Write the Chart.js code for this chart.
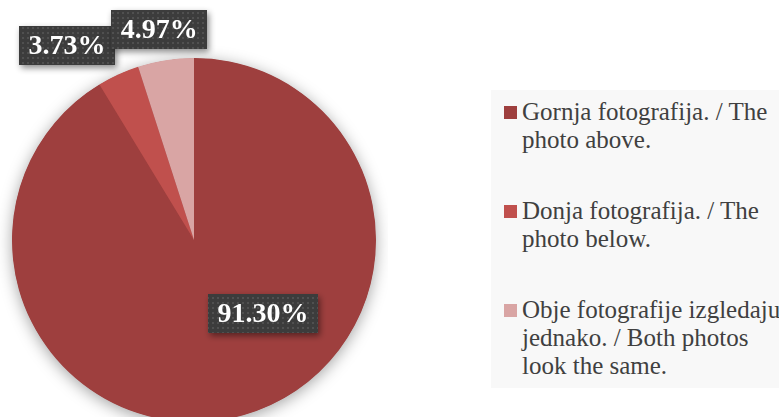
<!DOCTYPE html>
<html>
<head>
<meta charset="utf-8">
<script src="https://cdn.jsdelivr.net/npm/chart.js@4/dist/chart.umd.min.js"></script>
<style>
  html, body { margin: 0; padding: 0; background: #ffffff; overflow: hidden; width: 779px; height: 417px; }
  #wrap { position: absolute; left: 0; top: 0; width: 388px; height: 440px; }
  #legend { position: absolute; left: 491px; top: 90px; width: 288px; height: 298px; background: #f8f8f8; overflow: hidden;
            font-family: "Liberation Serif", serif; font-size: 25px; line-height: 28px; color: #404040; white-space: nowrap; }
  .item { position: relative; padding-left: 31px; margin-bottom: 43px; }
  .item:first-child { margin-top: 8px; }
  .sw { position: absolute; left: 13px; top: 8px; width: 13px; height: 13px; }
</style>
</head>
<body>
<div id="wrap"><canvas id="c"></canvas></div>
<div id="legend"></div>
<script>
// ---- data ----
const categories = [
  ["Gornja fotografija. / The", "photo above."],
  ["Donja fotografija. / The", "photo below."],
  ["Obje fotografije izgledaju", "jednako. / Both photos", "look the same."]
];
const values = [91.30, 3.73, 4.97];
const valueLabels = ["91.30%", "3.73%", "4.97%"];
const colors = ["#9e3f3e", "#c0504d", "#d9a5a4"];

// ---- legend (HTML text) ----
const legend = document.getElementById('legend');
categories.forEach((lines, i) => {
  const it = document.createElement('div');
  it.className = 'item';
  const sw = document.createElement('span');
  sw.className = 'sw';
  sw.style.background = colors[i];
  it.appendChild(sw);
  lines.forEach(l => {
    const d = document.createElement('div');
    d.textContent = l;
    it.appendChild(d);
  });
  legend.appendChild(it);
});

// ---- plugins ----
const pieShadow = {
  id: 'pieShadow',
  beforeDatasetsDraw(chart) {
    const arc = chart.getDatasetMeta(0).data[0];
    if (!arc) return;
    const ctx = chart.ctx;
    ctx.save();
    ctx.shadowColor = 'rgba(0,0,0,0.38)';
    ctx.shadowBlur = 16;
    ctx.shadowOffsetX = 0;
    ctx.shadowOffsetY = 3;
    ctx.fillStyle = colors[0];
    ctx.beginPath();
    ctx.arc(arc.x, arc.y, arc.outerRadius - 0.5, 0, Math.PI * 2);
    ctx.fill();
    ctx.restore();
  }
};

function makePattern(ctx) {
  const p = document.createElement('canvas');
  p.width = 5; p.height = 5;
  const pc = p.getContext('2d');
  pc.fillStyle = '#3c3c3c';
  pc.fillRect(0, 0, 5, 5);
  pc.fillStyle = '#505050';
  pc.fillRect(2, 2, 2, 2);
  return ctx.createPattern(p, 'repeat');
}

const boxLabels = {
  id: 'boxLabels',
  afterDatasetsDraw(chart, args, opts) {
    const ctx = chart.ctx;
    const meta = chart.getDatasetMeta(0);
    const pat = makePattern(ctx);
    ctx.save();
    ctx.font = 'bold 28px "Liberation Serif", serif';
    ctx.textAlign = 'center';
    ctx.textBaseline = 'middle';
    meta.data.forEach((arc, i) => {
      const mid = (arc.startAngle + arc.endAngle) / 2 + opts.angleShift[i] * Math.PI / 180;
      const r = arc.outerRadius * opts.radiusFactor[i];
      const cx = arc.x + Math.cos(mid) * r;
      const cy = arc.y + Math.sin(mid) * r;
      const txt = valueLabels[i];
      const w = ctx.measureText(txt).width + 19;
      const h = 39;
      ctx.save();
      ctx.shadowColor = 'rgba(0,0,0,0.45)';
      ctx.shadowBlur = 6;
      ctx.shadowOffsetX = 2;
      ctx.shadowOffsetY = 3;
      ctx.fillStyle = pat;
      ctx.fillRect(Math.round(cx - w / 2), Math.round(cy - h / 2), Math.round(w), h);
      ctx.restore();
      ctx.fillStyle = '#ffffff';
      ctx.fillText(txt, cx, cy + 1);
    });
    ctx.restore();
  }
};

new Chart(document.getElementById('c'), {
  type: 'pie',
  data: {
    labels: categories,
    datasets: [{
      data: values,
      backgroundColor: colors,
      borderWidth: 0
    }]
  },
  options: {
    responsive: true,
    maintainAspectRatio: false,
    animation: false,
    layout: { padding: { top: 58, bottom: 18, left: 12, right: 12 } },
    plugins: {
      legend: { display: false },
      tooltip: { enabled: false },
      boxLabels: {
        angleShift: [-27.5, -8.6, -0.4],
        radiusFactor: [0.554, 1.274, 1.1725]
      }
    }
  },
  plugins: [pieShadow, boxLabels]
});
</script>
</body>
</html>
